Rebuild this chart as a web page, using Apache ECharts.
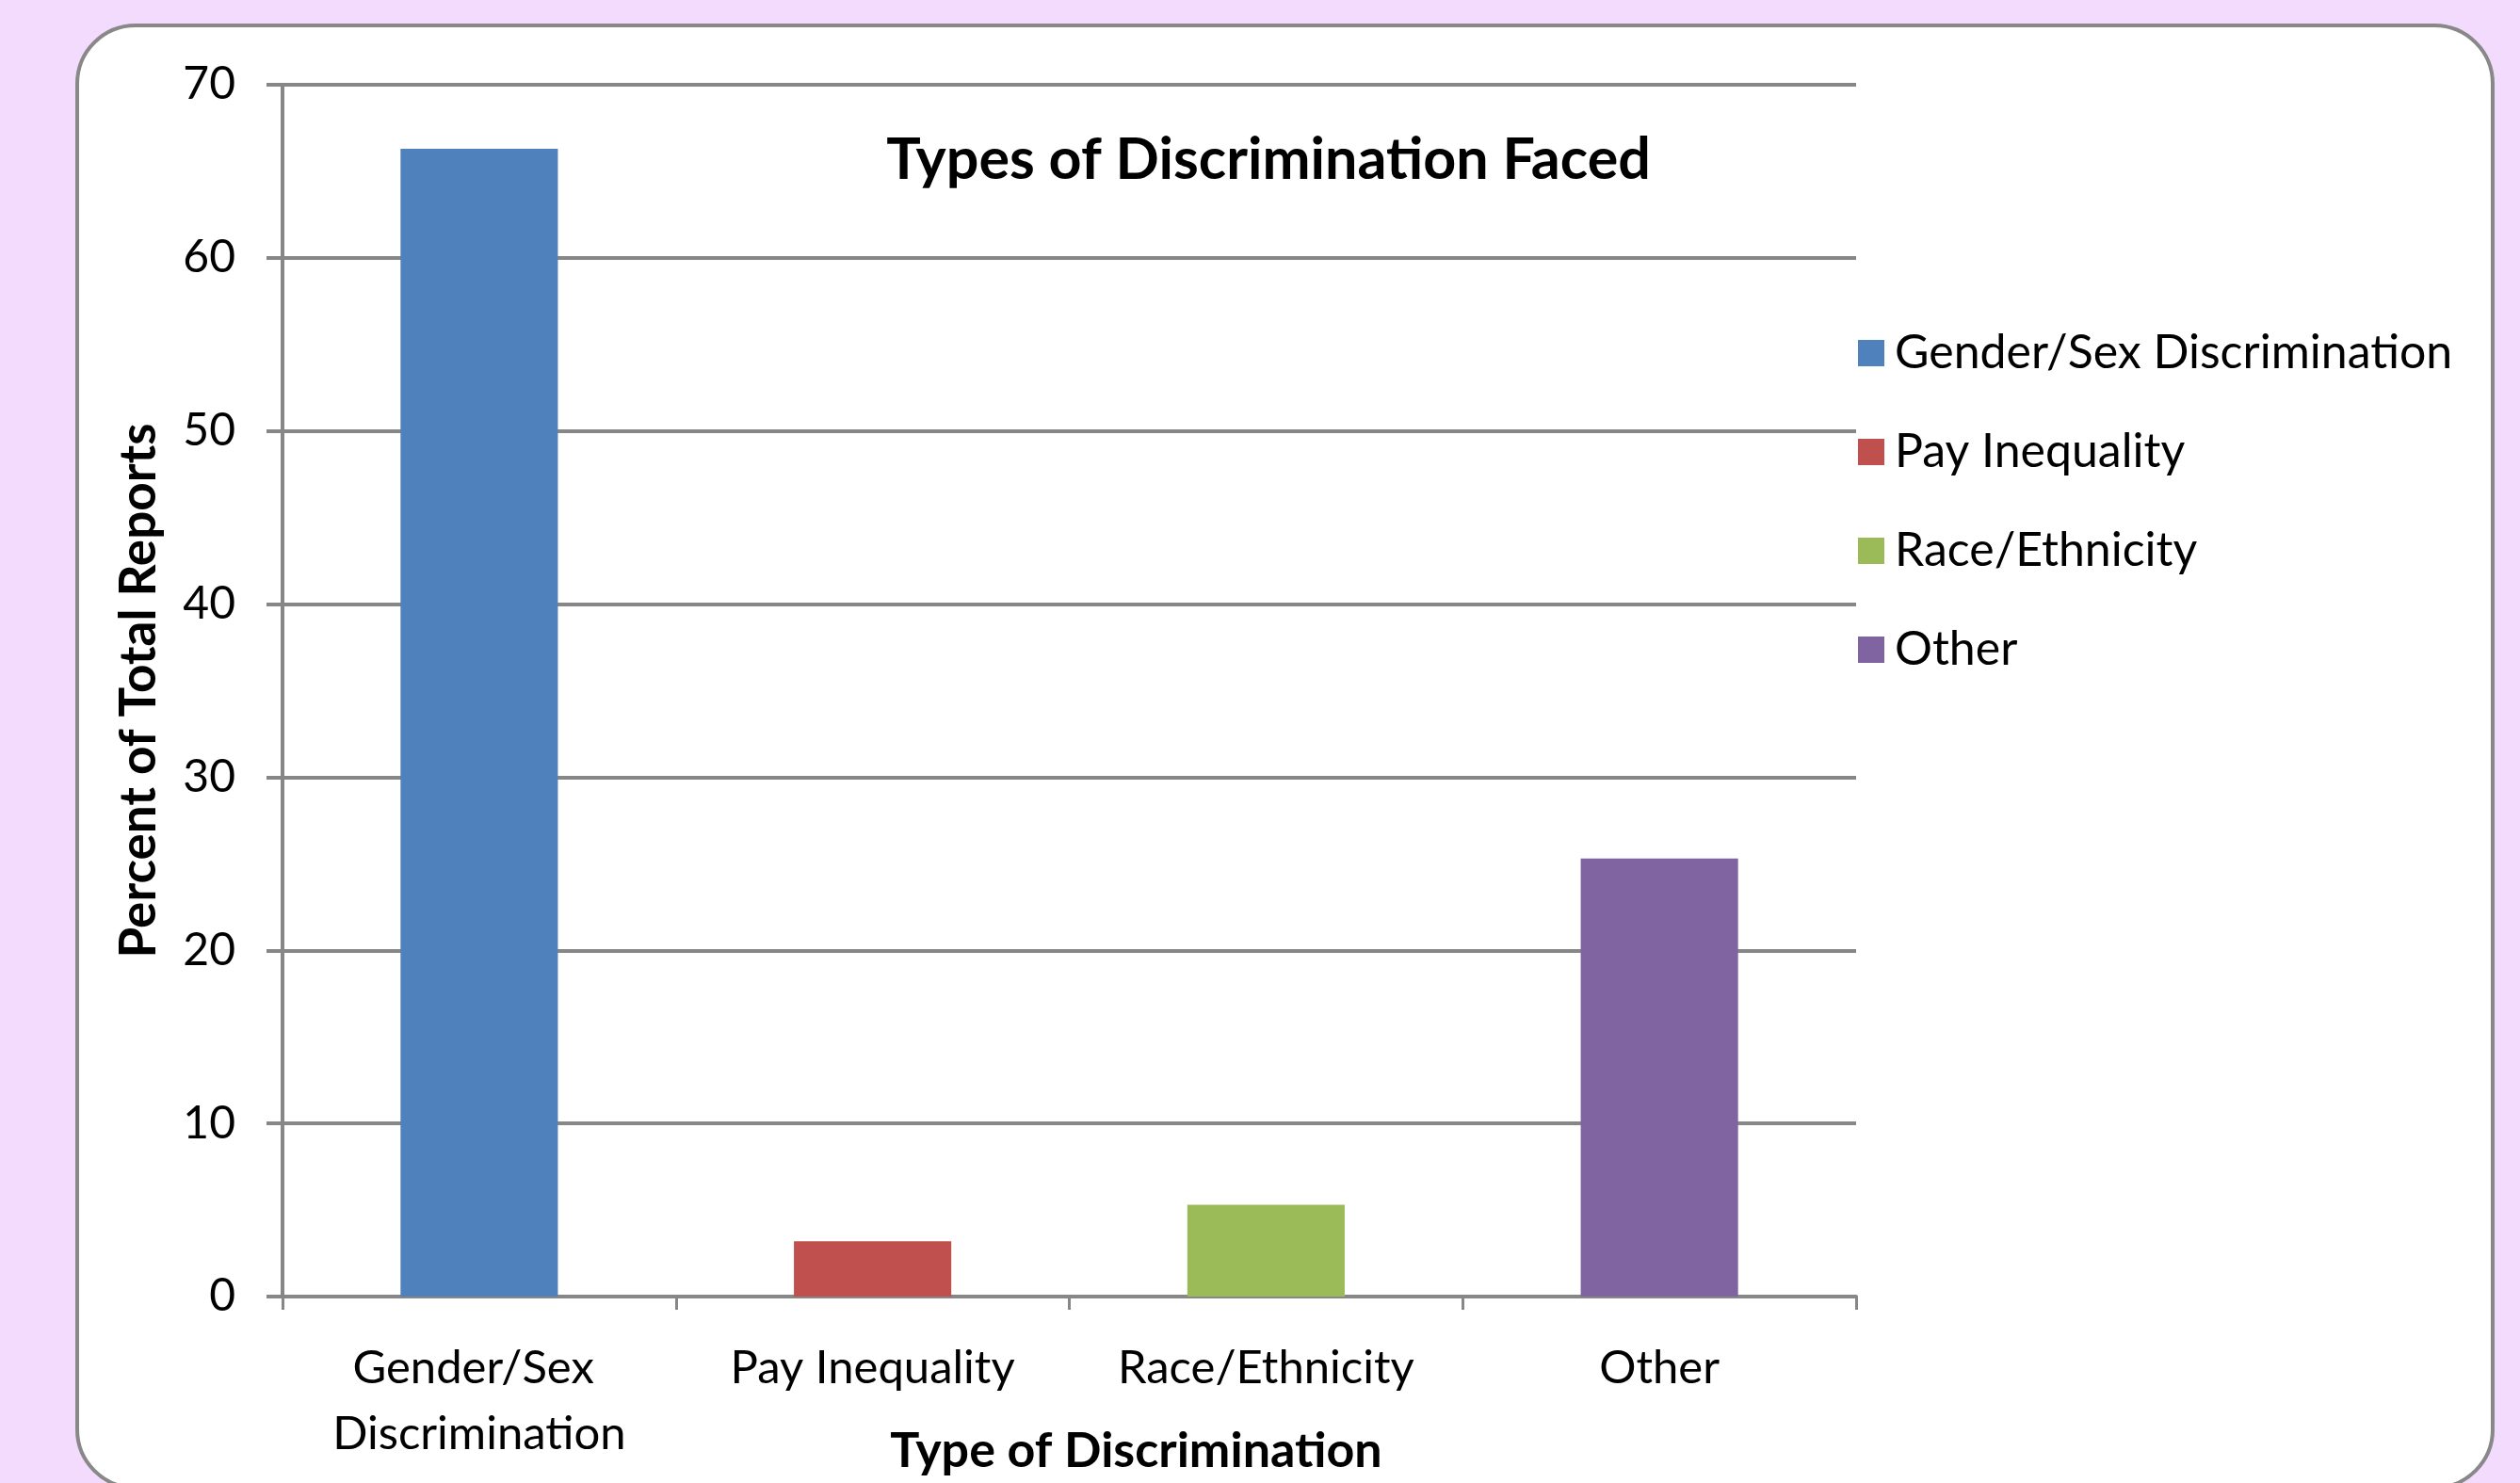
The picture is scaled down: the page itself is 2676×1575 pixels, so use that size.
<!DOCTYPE html>
<html>
<head>
<meta charset="utf-8">
<script src="https://cdn.jsdelivr.net/npm/echarts@6/dist/echarts.min.js"></script>
<style>
  html, body { margin: 0; padding: 0; background: #f2dbfd; }
  #chart { width: 2676px; height: 1575px; }
</style>
</head>
<body>
<div id="chart"></div>
<script>
// ---- data ----
const categories = ['Gender/Sex Discrimination', 'Pay Inequality', 'Race/Ethnicity', 'Other'];
const values = [66.3, 3.2, 5.3, 25.3];
const colors = ['#4f81bd', '#c0504d', '#9bbb59', '#8064a2'];
const yTicks = { min: 0, max: 70, interval: 10 };
const chartTitle = 'Types of Discrimination Faced';
const xAxisTitle = 'Type of Discrimination';
const yAxisTitle = 'Percent of Total Reports';

const FONT = 'Lato, "Open Sans", sans-serif';
const GRAY = '#878787';

const series = categories.map((name, i) => ({
  name: name,
  type: 'bar',
  stack: 'all',
  barWidth: '40%',
  itemStyle: { color: colors[i] },
  data: categories.map((c, j) => (j === i ? values[i] : '-'))
}));

const chart = echarts.init(document.getElementById('chart'), null, { renderer: 'canvas' });
chart.setOption({
  backgroundColor: '#f2dbfd',
  animation: false,
  textStyle: { fontFamily: FONT },
  graphic: [{
    type: 'rect',
    z: -10,
    silent: true,
    shape: { x: 82, y: 27, width: 2565, height: 1553, r: 62 },
    style: { fill: '#ffffff', stroke: '#888888', lineWidth: 4 }
  }],
  title: {
    text: chartTitle,
    left: 1347,
    top: 140,
    textAlign: 'center',
    padding: 0,
    textStyle: { fontFamily: FONT, fontSize: 61, fontWeight: 'bold', color: '#000' }
  },
  legend: {
    orient: 'vertical',
    left: 1973,
    top: 346,
    icon: 'rect',
    itemWidth: 28,
    itemHeight: 28,
    itemGap: 47,
    padding: 0,
    textStyle: { fontFamily: FONT, fontSize: 50, color: '#000', lineHeight: 58, padding: [0, 0, 0, 6] },
    data: categories
  },
  grid: { left: 300, right: 705, top: 90, bottom: 198, outerBoundsMode: 'none', containLabel: false },
  xAxis: {
    type: 'category',
    data: categories,
    boundaryGap: true,
    name: xAxisTitle,
    nameLocation: 'middle',
    nameGap: 138,
    nameMoveOverlap: false,
    nameTextStyle: { fontFamily: FONT, fontSize: 52, fontWeight: 'bold', color: '#000', padding: [0, 0, 0, 142] },
    axisLine: { show: true, lineStyle: { color: GRAY, width: 4 } },
    axisTick: { show: true, length: 14, lineStyle: { color: GRAY, width: 3 } },
    axisLabel: {
      interval: 0,
      margin: 41,
      fontFamily: FONT,
      fontSize: 49,
      lineHeight: 70,
      color: '#000',
      width: 400,
      overflow: 'break'
    },
    splitLine: { show: false }
  },
  yAxis: {
    type: 'value',
    min: yTicks.min,
    max: yTicks.max,
    interval: yTicks.interval,
    name: yAxisTitle,
    nameLocation: 'middle',
    nameGap: 126,
    nameMoveOverlap: false,
    nameTextStyle: { fontFamily: FONT, fontSize: 53, fontWeight: 'bold', color: '#000' },
    axisLine: { show: true, lineStyle: { color: GRAY, width: 4 } },
    axisTick: { show: true, length: 17, lineStyle: { color: GRAY, width: 4 } },
    axisLabel: { margin: 50, fontFamily: FONT, fontSize: 48, color: '#000' },
    splitLine: { show: true, lineStyle: { color: GRAY, width: 4 } }
  },
  series: series
});
</script>
</body>
</html>
